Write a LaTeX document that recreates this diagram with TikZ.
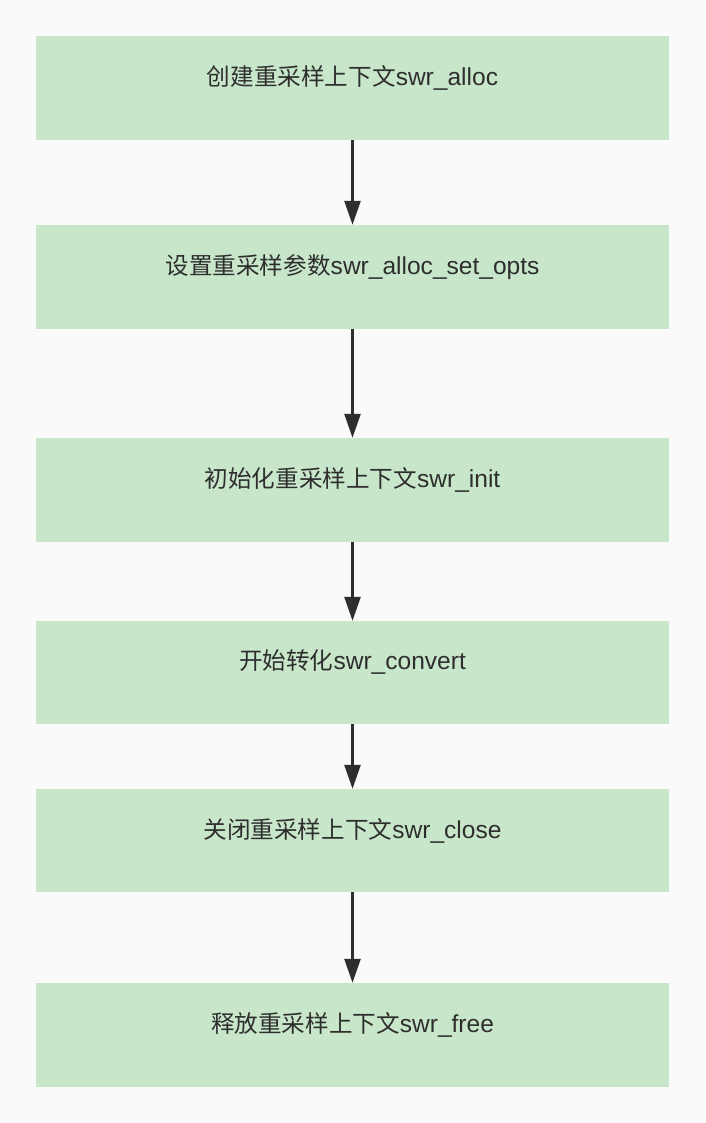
\documentclass[tikz,border=0pt]{standalone}
\usepackage{fontspec}
\setmainfont[Scale=1.04]{Liberation Sans}
\newfontfamily\cjk{Noto Sans CJK SC}
\usetikzlibrary{arrows.meta}
\definecolor{bg}{HTML}{FAFAFA}
\definecolor{boxfill}{HTML}{C8E6C9}
\definecolor{ink}{HTML}{2E2E2E}
\tikzset{
  stepbox/.style={fill=boxfill, draw=none, minimum width=633pt, minimum height=104pt, inner sep=0pt},
  steptext/.style={text=ink, inner sep=0pt, font=\fontsize{23.6pt}{28pt}\selectfont},
  flow/.style={draw=ink, line width=2.6pt, -{Triangle[width=16pt,length=24pt]}}
}
\begin{document}
\begin{tikzpicture}[x=1pt,y=-1pt]
\fill[bg] (0,0) rectangle (705,1123);
\useasboundingbox (0,0) rectangle (705,1123);
\node[stepbox] (b1) at (352.5,88) {};
\node[stepbox] (b2) at (352.5,277) {};
\node[stepbox] (b3) at (352.5,490) {};
\node[stepbox, minimum height=103pt] (b4) at (352.5,672.5) {};
\node[stepbox, minimum height=103pt] (b5) at (352.5,840.5) {};
\node[stepbox] (b6) at (352.5,1035) {};
\node[steptext] (t1) at ([yshift=10pt]b1.center) {{\cjk 创建重采样上下文}swr\_alloc};
\node[steptext] (t2) at ([yshift=10pt]b2.center) {{\cjk 设置重采样参数}swr\_alloc\_set\_opts};
\node[steptext] (t3) at ([yshift=10pt]b3.center) {{\cjk 初始化重采样上下文}swr\_init};
\node[steptext] (t4) at ([yshift=10pt]b4.center) {{\cjk 开始转化}swr\_convert};
\node[steptext] (t5) at ([yshift=10pt]b5.center) {{\cjk 关闭重采样上下文}swr\_close};
\node[steptext] (t6) at ([yshift=10pt]b6.center) {{\cjk 释放重采样上下文}swr\_free};
\draw[flow] (b1.south) -- (b2.north);
\draw[flow] (b2.south) -- (b3.north);
\draw[flow] (b3.south) -- (b4.north);
\draw[flow] (b4.south) -- (b5.north);
\draw[flow] (b5.south) -- (b6.north);
\end{tikzpicture}
\end{document}
